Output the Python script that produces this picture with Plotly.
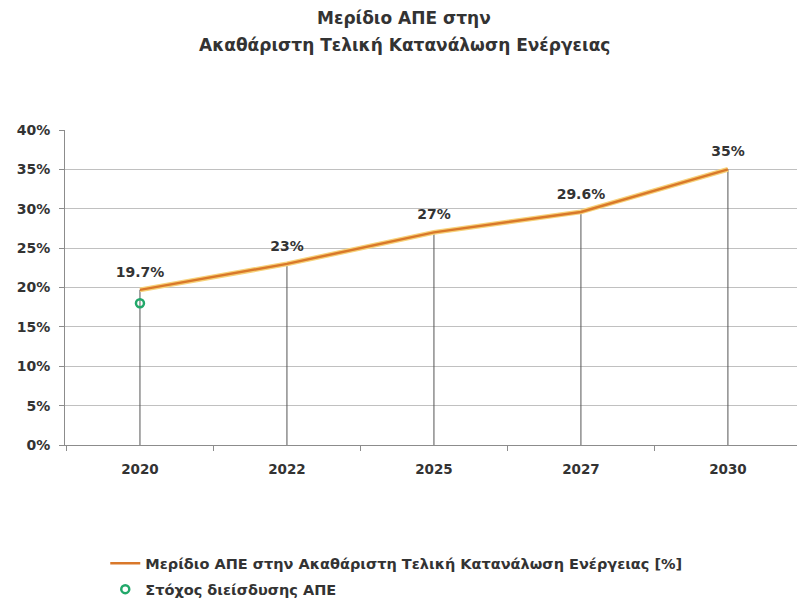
import plotly.graph_objects as go

years = ["2020", "2022", "2025", "2027", "2030"]
share = [19.7, 23, 27, 29.6, 35]
labels = ["19.7%", "23%", "27%", "29.6%", "35%"]
target_years = ["2020"]
target_vals = [18.0]

line_name = "Μερίδιο ΑΠΕ στην Ακαθάριστη Τελική Κατανάλωση Ενέργειας [%]"
target_name = "Στόχος διείσδυσης ΑΠΕ"
title_lines = ["Μερίδιο ΑΠΕ στην", "Ακαθάριστη Τελική Κατανάλωση Ενέργειας"]

FONT = "DejaVu Sans"
TXT = "#333333"

fig = go.Figure()

# drop lines from the points to the axis
fig.add_trace(go.Scatter(
    x=years, y=share, mode="markers",
    marker=dict(size=1, color="rgba(0,0,0,0)"),
    error_y=dict(type="data", symmetric=False, array=[0] * len(share),
                 arrayminus=share, thickness=1, width=0, color="#555555"),
    showlegend=False, hoverinfo="skip"))

# soft glow beneath line
fig.add_trace(go.Scatter(
    x=years, y=share, mode="lines",
    line=dict(color="#F7D27A", width=5),
    showlegend=False, hoverinfo="skip"))

fig.add_trace(go.Scatter(
    x=years, y=share, mode="lines+markers+text", name=line_name,
    legendgroup="a",
    line=dict(color="#D9782A", width=2.5),
    marker=dict(size=14, color="rgba(0,0,0,0)"),
    text=labels, textposition="top center",
    textfont=dict(family=FONT, size=14, color=TXT, weight="bold")))

fig.add_trace(go.Scatter(
    x=target_years, y=target_vals, mode="markers", name=target_name,
    legendgroup="b",
    marker=dict(symbol="circle-open", size=8, color="#22A86A",
                line=dict(width=2.5, color="#22A86A"))))

# title lines (plot area spans y=130..445 px, 315 px for paper 0..1)
title_y_px = [18, 45]
for line, ypx in zip(title_lines, title_y_px):
    fig.add_annotation(text=line, xref="paper", yref="paper",
                       x=(404 - 65) / 732, y=(445 - ypx) / 315,
                       xanchor="center", yanchor="middle", showarrow=False,
                       font=dict(family=FONT, size=17, color=TXT, weight="bold"))

fig.update_layout(
    width=797, height=603,
    margin=dict(l=65, r=0, t=130, b=158, autoexpand=False),
    paper_bgcolor="white", plot_bgcolor="white",
    font=dict(family=FONT, color=TXT),
    showlegend=True,
    legend=dict(x=0.055, y=-0.325, xanchor="left", yanchor="top",
                font=dict(family=FONT, size=14.5, color=TXT, weight="bold"),
                bgcolor="rgba(0,0,0,0)", itemwidth=30,
                traceorder="grouped", tracegroupgap=4),
)

fig.update_xaxes(
    type="category", range=[-0.51, 4.47], automargin=False,
    showgrid=False, showline=True, linecolor="#8c8c8c", linewidth=1,
    ticks="outside", tickson="boundaries", ticklen=5, tickcolor="#8c8c8c",
    ticklabelstandoff=12,
    tickfont=dict(family=FONT, size=13.5, color=TXT, weight="bold"),
    fixedrange=True)

fig.update_yaxes(
    range=[0, 40], dtick=5, ticksuffix="%", automargin=False,
    showgrid=True, gridcolor="#c0c0c0", gridwidth=1.2,
    showline=True, linecolor="#8c8c8c", linewidth=1,
    ticks="outside", ticklen=5, tickcolor="#8c8c8c",
    ticklabelstandoff=6,
    zeroline=False,
    tickfont=dict(family=FONT, size=14, color=TXT, weight="bold"))

fig.write_html("out.html")
